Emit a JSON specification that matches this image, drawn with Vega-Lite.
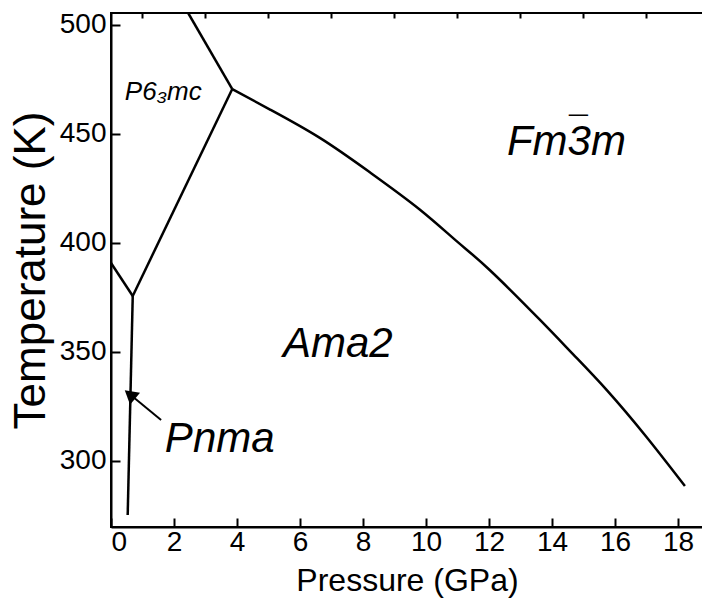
{
  "$schema": "https://vega.github.io/schema/vega-lite/v6.json",
  "autosize": "none",
  "width": 615,
  "height": 514,
  "padding": {"top": 13, "left": 111, "right": 0, "bottom": 79},
  "background": "white",
  "config": {
    "view": {"stroke": "black", "strokeWidth": 2},
    "font": "Liberation Sans",
    "axis": {
      "labelFont": "Liberation Sans",
      "labelFontSize": 28,
      "labelColor": "black",
      "domainColor": "black",
      "domainWidth": 2,
      "tickColor": "black",
      "tickWidth": 2,
      "titleFont": "Liberation Sans",
      "titleFontWeight": "normal",
      "titleColor": "black",
      "grid": false
    }
  },
  "resolve": {"axis": {"x": "independent", "y": "independent"}},
  "datasets": {
    "boundaries": [
      {"b": "a", "o": 1, "P": 0.53, "T": 275.2},
      {"b": "a", "o": 2, "P": 0.69, "T": 375.7},
      {"b": "b", "o": 1, "P": 0.0, "T": 390.8},
      {"b": "b", "o": 2, "P": 0.69, "T": 375.7},
      {"b": "c", "o": 1, "P": 0.69, "T": 375.7},
      {"b": "c", "o": 2, "P": 3.85, "T": 470.6},
      {"b": "d", "o": 1, "P": 3.85, "T": 470.6},
      {"b": "d", "o": 2, "P": 2.45, "T": 505.5},
      {"b": "e", "o": 1, "P": 3.85, "T": 470.6},
      {"b": "e", "o": 2, "P": 5.05, "T": 461.2},
      {"b": "e", "o": 3, "P": 6.63, "T": 448.2},
      {"b": "e", "o": 4, "P": 8.22, "T": 432.4},
      {"b": "e", "o": 5, "P": 9.79, "T": 415.5},
      {"b": "e", "o": 6, "P": 11.0, "T": 400.5},
      {"b": "e", "o": 7, "P": 12.03, "T": 387.5},
      {"b": "e", "o": 8, "P": 13.62, "T": 364.7},
      {"b": "e", "o": 9, "P": 14.68, "T": 348.8},
      {"b": "e", "o": 10, "P": 15.74, "T": 332.5},
      {"b": "e", "o": 11, "P": 17.0, "T": 311.0},
      {"b": "e", "o": 12, "P": 18.22, "T": 288.5}
    ],
    "arrow": [
      {"o": 1, "P": 1.59, "T": 318.8},
      {"o": 2, "P": 0.52, "T": 331.5}
    ],
    "arrowhead": [
      {"P": 0.6, "T": 330.5}
    ],
    "labels": [
      {"text": "P6₃mc", "P": 0.44, "T": 465.6, "size": "small"},
      {"text": "Fm3m", "P": 12.57, "T": 440.4, "size": "large"},
      {"text": "Ama2", "P": 5.46, "T": 347.7, "size": "large"},
      {"text": "Pnma", "P": 1.71, "T": 304.1, "size": "large"}
    ],
    "ticks": [
      {"P": 1, "T": 275}
    ]
  },
  "layer": [
    {
      "data": {"name": "boundaries"},
      "mark": {"type": "line", "color": "black", "strokeWidth": 2.5, "interpolate": "natural", "clip": true},
      "encoding": {
        "x": {
          "field": "P", "type": "quantitative",
          "scale": {"domain": [0, 19.524], "nice": false, "zero": false},
          "axis": {
            "title": "Pressure (GPa)",
            "titleFontSize": 32,
            "titleX": 296,
            "values": [0,2,4,6,8,10,12,14,16,18],
            "tickSize": -9,
            "labelPadding": 10,
            "titlePadding": 9
          }
        },
        "y": {
          "field": "T", "type": "quantitative",
          "scale": {"domain": [269.7, 505.5], "nice": false, "zero": false},
          "axis": {
            "title": "Temperature (K)",
            "titleFontSize": 44,
            "values": [300,350,400,450,500],
            "tickSize": -9,
            "labelPadding": 14,
            "titlePadding": 6
          }
        },
        "detail": {"field": "b"},
        "order": {"field": "o"}
      }
    },
    {
      "data": {"name": "ticks"},
      "mark": {"type": "point", "opacity": 0},
      "encoding": {
        "x": {
          "field": "P", "type": "quantitative",
          "axis": {
            "title": null, "labels": false, "domain": false,
            "values": [1,3,5,7,9,11,13,15,17],
            "tickSize": -5
          }
        },
        "y": {
          "field": "T", "type": "quantitative",
          "axis": {
            "title": null, "labels": false, "domain": false,
            "values": [275,325,375,425,475],
            "tickSize": -5
          }
        }
      }
    },
    {
      "data": {"name": "arrow"},
      "mark": {"type": "line", "color": "black", "strokeWidth": 2},
      "encoding": {
        "x": {"field": "P", "type": "quantitative", "axis": null},
        "y": {"field": "T", "type": "quantitative", "axis": null},
        "order": {"field": "o"}
      }
    },
    {
      "data": {"name": "arrowhead"},
      "mark": {"type": "point", "shape": "triangle-up", "filled": true, "color": "black", "size": 240, "angle": 310, "opacity": 1},
      "encoding": {
        "x": {"field": "P", "type": "quantitative", "axis": null},
        "y": {"field": "T", "type": "quantitative", "axis": null}
      }
    },
    {
      "data": {"name": "labels"},
      "mark": {"type": "text", "font": "Liberation Sans", "fontStyle": "italic", "align": "left", "baseline": "alphabetic", "color": "black"},
      "encoding": {
        "x": {"field": "P", "type": "quantitative", "axis": null},
        "y": {"field": "T", "type": "quantitative", "axis": null},
        "text": {"field": "text"},
        "size": {"field": "size", "type": "nominal", "scale": {"domain": ["small", "large"], "range": [26, 42]}, "legend": null}
      }
    },
    {
      "data": {"name": "labels"},
      "transform": [{"filter": "datum.text == 'Fm3m'"}],
      "mark": {"type": "text", "text": "¯", "font": "Liberation Sans", "fontSize": 34, "align": "left", "baseline": "alphabetic", "color": "black", "dx": 62, "dy": -15},
      "encoding": {
        "x": {"field": "P", "type": "quantitative", "axis": null},
        "y": {"field": "T", "type": "quantitative", "axis": null}
      }
    }
  ]
}
